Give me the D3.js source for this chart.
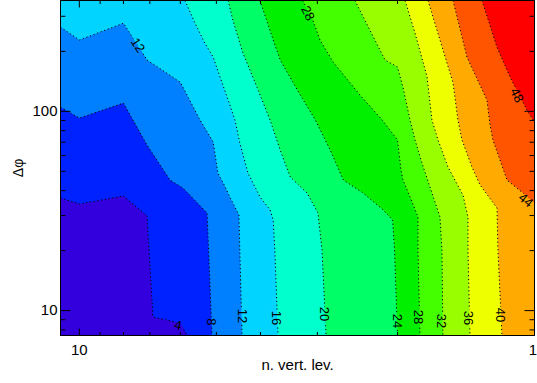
<!DOCTYPE html>
<html><head><meta charset="utf-8">
<script src="https://cdn.jsdelivr.net/npm/d3@7"></script>
<style>body{margin:0;background:#fff}svg{display:block}</style>
</head><body>
<svg id="chart" width="537" height="383"></svg>
<script>
// ---- data ----
const levels = [4, 8, 12, 16, 20, 24, 28, 32, 36, 40, 44, 48];
const bandColors = ["#3300dd", "#0022ff", "#0080ff", "#00d4ff", "#00ffcc", "#00ff66",
                    "#00f000", "#44ff00", "#99ff00", "#eeff00", "#ffaa00", "#ff5500", "#ff0000"];
// contour lines: [n. vert. lev., delta phi]
const c4  = [[11,36.7],[10,34.3],[8,37.6],[7.1,29.8],[6.89,9.29],[6.0,8.66],[5.8,7.5]];
const c8  = [[11,105],[10,92.5],[8,110],[7.1,67.7],[6.32,45.2],[5.92,41.2],[5.24,30.9],[5.11,7.5]];
const c12 = [[11,265],[10,228],[8,277],[7.1,181],[6.0,140],[5.43,90.4],[5.08,70.1],[4.96,49.0],[4.83,43.7],[4.67,37.2],[4.46,30.2],[4.44,20.1],[4.39,7.5]];
const c16 = [[5.86,360],[5.57,277],[5.30,220],[5.08,187],[4.91,149],[4.71,114],[4.55,90.4],[4.44,69.3],[4.26,49.0],[4.01,37.2],[3.81,32.0],[3.75,28.5],[3.72,20.1],[3.66,7.5]];
const c20 = [[4.71,360],[4.60,287],[4.37,196],[4.07,132],[3.81,90.4],[3.62,63.9],[3.44,46.8],[3.16,38.9],[2.99,30.9],[2.93,20.1],[2.87,7.5]];
const c24 = [[4.01,360],[3.75,228],[3.62,181],[3.32,128],[3.03,90.4],[2.81,63.9],[2.63,45.2],[2.38,38.9],[2.15,32.0],[2.05,28.5],[2.03,20.1],[2.00,7.5]];
const c28 = [[3.23,360],[3.07,287],[2.96,228],[2.77,177],[2.42,121],[2.16,90.4],[2.00,71.8],[1.965,50.8],[1.945,45.2],[1.877,37.2],[1.803,29.5],[1.803,20.1],[1.785,7.5]];
const c32 = [[2.48,360],[2.42,322],[2.13,181],[2.00,167],[1.945,132],[1.877,90.4],[1.830,71.8],[1.767,55.0],[1.613,29.5],[1.597,20.1],[1.589,7.5]];
const c36 = [[1.925,360],[1.830,247],[1.722,149],[1.680,90.4],[1.629,71.8],[1.549,52.5],[1.436,38.0],[1.400,29.5],[1.400,20.1],[1.386,7.5]];
const c40 = [[1.714,360],[1.613,228],[1.510,139],[1.473,90.4],[1.443,71.8],[1.372,52.5],[1.317,42.7],[1.209,32.7],[1.203,20.1],[1.179,7.5]];
const c44 = [[1.510,360],[1.407,187],[1.272,114],[1.252,85.3],[1.234,71.8],[1.149,45.2],[1.060,38.9],[1,34.7]];
const c48 = [[1.304,360],[1.209,210],[1.132,149],[1.039,101.5],[1,88.4]];
const contourLines = [c4, c8, c12, c16, c20, c24, c28, c32, c36, c40, c44, c48];

// contour labels: level, position [n, delta phi], angle
const labelLevels = [4, 8, 12, 12, 16, 20, 24, 28, 28, 32, 36, 40, 44, 48];
const labelPos = [[6.07,8.47],[5.11,8.77],[7.43,215],[4.39,9.40],[3.68,9.18],[2.885,9.61],[2.00,8.87],[1.794,9.29],[3.145,311],[1.597,8.87],[1.393,9.18],[1.185,9.50],[1.044,35.9],[1.092,120.7]];
const labelAngle = [12, 90, 57, 90, 90, 90, 90, 90, 63, 90, 90, 90, 39, 63];

const xTickLabels = [10, 1];
const xMinorTicks = [9, 8, 7, 6, 5, 4, 3, 2];
const yTickLabels = [10, 100];
const yMinorTicks = [8, 9, 20, 30, 40, 50, 60, 70, 80, 90, 200, 300];
const xTitle = "n. vert. lev.";
const yTitle = "\u0394\u03c6";

// ---- drawing ----
const W = 537, H = 383;
const FONT = "'Liberation Sans', Arial, Helvetica, sans-serif";
const x = d3.scaleLog().domain([11, 1]).range([60.5, 534.5]);
const y = d3.scaleLog().domain([7.5, 360]).range([335.5, 0.5]);
const [xl, xr] = x.range();
const [yb, yt] = y.range();
const svg = d3.select("#chart");

const defs = svg.append("defs");
defs.append("clipPath").attr("id", "plotclip").append("rect")
  .attr("x", xl).attr("y", yt).attr("width", xr - xl).attr("height", yb - yt);
const mask = defs.append("mask").attr("id", "lblmask")
  .attr("maskUnits", "userSpaceOnUse").attr("x", 0).attr("y", 0).attr("width", W).attr("height", H);
mask.append("rect").attr("width", W).attr("height", H).attr("fill", "white");

const plot = svg.append("g").attr("clip-path", "url(#plotclip)");
plot.append("rect").attr("x", xl).attr("y", yt).attr("width", xr - xl).attr("height", yb - yt)
  .attr("fill", bandColors[0]);

function edgeOf(p) {
  const e = 0.6;
  if (Math.abs(p[1] - yb) < e) return 0;   // bottom
  if (Math.abs(p[0] - xr) < e) return 1;   // right
  if (Math.abs(p[1] - yt) < e) return 2;   // top
  return 3;                                // left
}
const corners = [[xr, yb], [xr, yt], [xl, yt], [xl, yb]];
const line = d3.line();

contourLines.forEach((pts, i) => {
  const px = pts.map(d => [x(d[0]), y(d[1])]);
  const eEnd = edgeOf(px[px.length - 1]), eStart = edgeOf(px[0]);
  const poly = px.slice();
  let e = eEnd;
  while (e !== eStart) { poly.push(corners[e]); e = (e + 1) % 4; }
  plot.append("path").attr("d", line(poly) + "Z").attr("fill", bandColors[i + 1]);
});

const linesG = plot.append("g").attr("mask", "url(#lblmask)");
contourLines.forEach(pts => {
  linesG.append("path").attr("d", line(pts.map(d => [x(d[0]), y(d[1])])))
    .attr("fill", "none").attr("stroke", "#000").attr("stroke-width", 1)
    .attr("stroke-dasharray", "1.2,2.6");
});

labelLevels.forEach((lv, i) => {
  const p = labelPos[i];
  const tr = `translate(${x(p[0])},${y(p[1])}) rotate(${labelAngle[i]})`;
  mask.append("text").attr("transform", tr).attr("text-anchor", "middle").attr("dy", "0.35em")
    .attr("font-family", FONT).attr("font-size", 13).attr("fill", "black")
    .attr("stroke", "black").attr("stroke-width", 4).text(d3.format("d")(lv));
  svg.append("text").attr("transform", tr).attr("text-anchor", "middle").attr("dy", "0.35em")
    .attr("font-family", FONT).attr("font-size", 13).attr("fill", "#000").text(d3.format("d")(lv));
});

// axes
function styleAxis(g) {
  g.select(".domain").remove();
  g.selectAll(".tick line").attr("stroke", "#000").attr("stroke-width", 1);
  g.attr("font-family", FONT).attr("font-size", 15);
  g.selectAll(".tick text").attr("fill", "#000");
}
const bottomMajor = svg.append("g").attr("transform", `translate(0,${yb})`)
  .call(d3.axisBottom(x).tickValues(xTickLabels).tickSize(-7).tickPadding(9).offset(0).tickFormat(d3.format("d")))
  .call(styleAxis);
// keep the label at the right-hand end inside the picture
bottomMajor.selectAll(".tick text").filter(d => x(d) > W - 8)
  .attr("text-anchor", "end").attr("x", W - x(1));
svg.append("g").attr("transform", `translate(0,${yb})`)
  .call(d3.axisBottom(x).tickValues(xMinorTicks).tickSize(-3.5).offset(0).tickFormat(""))
  .call(styleAxis);
svg.append("g").attr("transform", `translate(0,${yt})`)
  .call(d3.axisTop(x).tickValues(xTickLabels).tickSize(-7).offset(0).tickFormat(""))
  .call(styleAxis);
svg.append("g").attr("transform", `translate(0,${yt})`)
  .call(d3.axisTop(x).tickValues(xMinorTicks).tickSize(-3.5).offset(0).tickFormat(""))
  .call(styleAxis);
svg.append("g").attr("transform", `translate(${xl},0)`)
  .call(d3.axisLeft(y).tickValues(yTickLabels).tickSize(-10).tickPadding(3).offset(0).tickFormat(d3.format("d")))
  .call(styleAxis);
svg.append("g").attr("transform", `translate(${xl},0)`)
  .call(d3.axisLeft(y).tickValues(yMinorTicks).tickSize(-5).offset(0).tickFormat(""))
  .call(styleAxis);
svg.append("g").attr("transform", `translate(${xr},0)`)
  .call(d3.axisRight(y).tickValues(yTickLabels).tickSize(-10).offset(0).tickFormat(""))
  .call(styleAxis);
svg.append("g").attr("transform", `translate(${xr},0)`)
  .call(d3.axisRight(y).tickValues(yMinorTicks).tickSize(-5).offset(0).tickFormat(""))
  .call(styleAxis);

svg.append("rect").attr("x", xl).attr("y", yt).attr("width", xr - xl).attr("height", yb - yt)
  .attr("fill", "none").attr("stroke", "#000").attr("stroke-width", 1);

svg.append("text").attr("x", (xl + xr) / 2).attr("y", 369.5).attr("text-anchor", "middle")
  .attr("font-family", FONT).attr("font-size", 15).attr("fill", "#000").text(xTitle);
svg.append("text").attr("transform", `translate(22.5,${(yt + yb) / 2}) rotate(-90)`)
  .attr("text-anchor", "middle").attr("font-family", FONT).attr("font-size", 14)
  .attr("fill", "#000").text(yTitle);
</script>
</body></html>
